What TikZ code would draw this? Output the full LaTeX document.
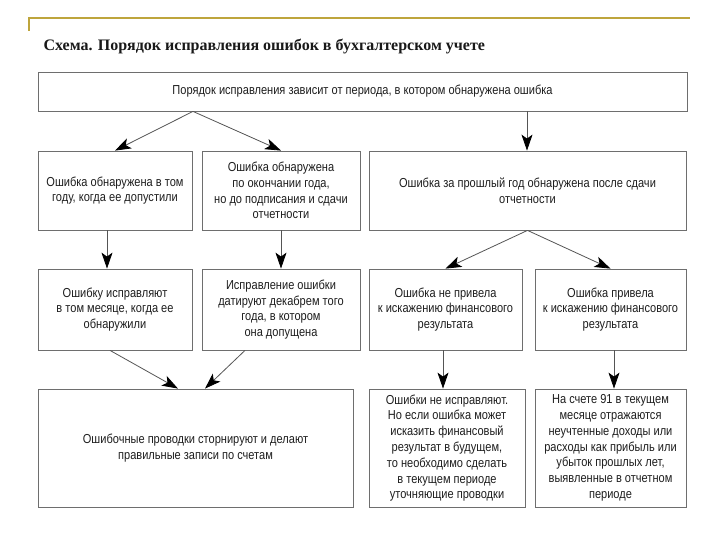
\documentclass[tikz,border=0pt]{standalone}
\usepackage{fontspec}
\setmainfont{Liberation Sans}[FakeStretch=0.85]
\newfontfamily\titlefont{Liberation Serif}
\usetikzlibrary{arrows.meta}
\definecolor{deco}{RGB}{190,165,60}
\definecolor{boxline}{RGB}{110,110,110}
\definecolor{arrline}{RGB}{85,85,85}
\definecolor{txt}{RGB}{30,30,30}
\begin{document}
\begin{tikzpicture}[x=1pt,y=-1pt,
  box/.style={draw=boxline, line width=0.8pt, align=center, inner sep=0pt,
    text=txt, font=\fontsize{13}{15.8}\selectfont},
  arr/.style={draw=arrline, line width=0.8pt, -{Stealth[length=16pt,width=11pt,inset=4pt,color=black]}}]
\useasboundingbox[fill=white] (0,0) rectangle (720,540);
\draw[deco, line width=2pt] (29,31) -- (29,18) -- (690,18);
\node[anchor=west, font=\titlefont\bfseries\fontsize{16}{19}\selectfont, text=black!90] (title) at (40,47) {Схема. Порядок исправления ошибок в бухгалтерском учете};

\node[box, minimum width=649pt, minimum height=39pt] (T) at (362.5,91.5) {Порядок исправления зависит от периода, в котором обнаружена ошибка};
\node[box, minimum width=154pt, minimum height=79pt] (A) at (115,190.5) {Ошибка обнаружена в том\\году, когда ее допустили};
\node[box, minimum width=158pt, minimum height=79pt] (B) at (281,190.5) {Ошибка обнаружена\\по окончании года,\\но до подписания и сдачи\\отчетности};
\node[box, minimum width=317pt, minimum height=79pt] (C) at (527.5,190.5) {Ошибка за прошлый год обнаружена после сдачи\\отчетности};
\node[box, minimum width=154pt, minimum height=81pt] (D) at (115,309.5) {Ошибку исправляют\\в том месяце, когда ее\\обнаружили};
\node[box, minimum width=158pt, minimum height=81pt] (E) at (281,309.5) {Исправление ошибки\\датируют декабрем того\\года, в котором\\она допущена};
\node[box, minimum width=153pt, minimum height=81pt] (F) at (445.5,309.5) {Ошибка не привела\\к искажению финансового\\результата};
\node[box, minimum width=151pt, minimum height=81pt] (G) at (610.5,309.5) {Ошибка привела\\к искажению финансового\\результата};
\node[box, minimum width=315pt, minimum height=118pt] (H) at (195.5,448) {Ошибочные проводки сторнируют и делают\\правильные записи по счетам};
\node[box, minimum width=156pt, minimum height=118pt] (I) at (447,448) {Ошибки не исправляют.\\Но если ошибка может\\исказить финансовый\\результат в будущем,\\то необходимо сделать\\в текущем периоде\\уточняющие проводки};
\node[box, minimum width=151pt, minimum height=118pt] (J) at (610.5,448) {На счете 91 в текущем\\месяце отражаются\\неучтенные доходы или\\расходы как прибыль или\\убыток прошлых лет,\\выявленные в отчетном\\периоде};

\coordinate (t1) at (193,0);
\coordinate (t2) at (527,0);
\coordinate (ad) at (107,0);
\coordinate (fi) at (443,0);
\coordinate (gj) at (614,0);
\coordinate (d1) at (110,0);
\coordinate (e1) at (245,0);
\coordinate (h1) at (178,0);
\coordinate (h2) at (205,0);

\draw[arr] (T.south -| t1) -- (A.north);
\draw[arr] (T.south -| t1) -- (B.north);
\draw[arr] (T.south -| t2) -- (C.north -| t2);
\draw[arr] (A.south -| ad) -- (D.north -| ad);
\draw[arr] (B.south) -- (E.north);
\draw[arr] (C.south) -- (F.north);
\draw[arr] (C.south) -- (G.north);
\draw[arr] (F.south -| fi) -- (I.north -| fi);
\draw[arr] (G.south -| gj) -- (J.north -| gj);
\draw[arr] (D.south -| d1) -- (H.north -| h1);
\draw[arr] (E.south -| e1) -- (H.north -| h2);
\end{tikzpicture}
\end{document}
